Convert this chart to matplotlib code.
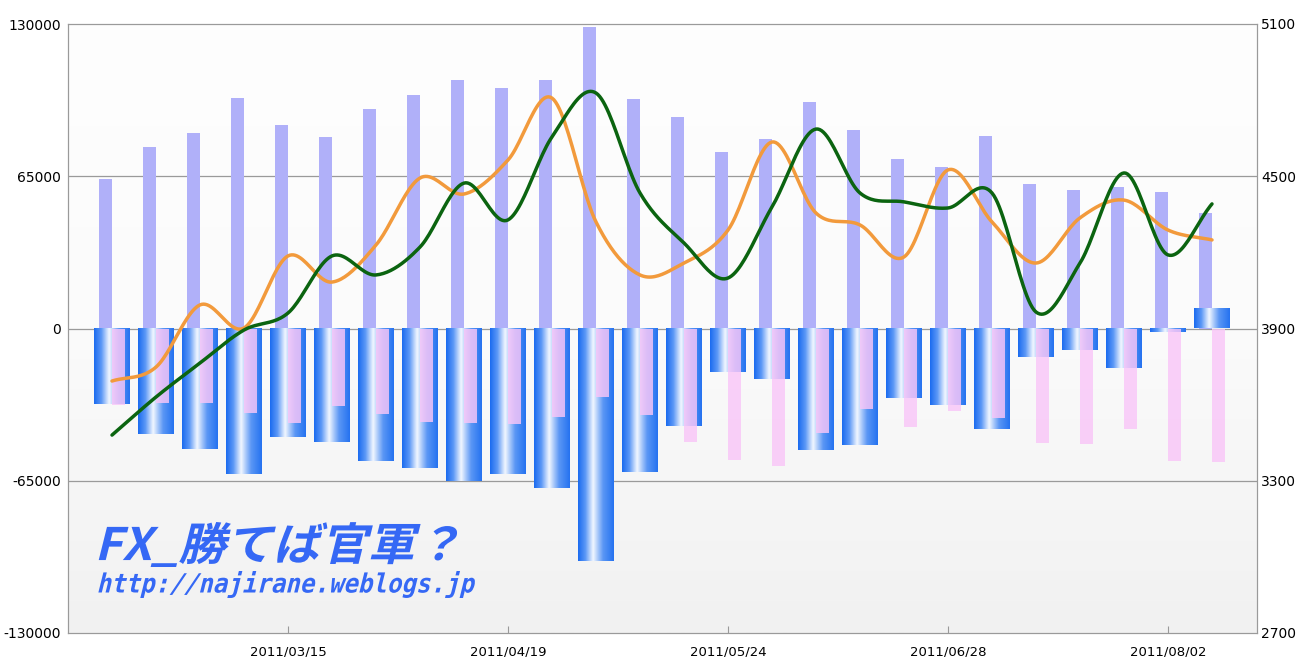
import numpy as np
import pandas as pd
import matplotlib
matplotlib.use("Agg")
import matplotlib.pyplot as plt
import matplotlib.dates as mdates
from matplotlib.colors import LinearSegmentedColormap
from matplotlib.textpath import TextPath
from matplotlib.font_manager import FontProperties
from matplotlib.patches import PathPatch
from matplotlib.transforms import Affine2D, IdentityTransform


# weekly data, 2011/02/15 .. 2011/08/09
weeks = pd.date_range("2011-02-15", periods=26, freq="7D")

buy_vol = [63800, 77500, 83500, 98400, 86900, 81800, 93700, 99700, 106100, 102700,
           106100, 128700, 98000, 90300, 75400, 80900, 96700, 84700, 72400, 68900,
           82200, 61700, 59100, 60400, 58300, 49300]

pnl_blue = [-32200, -45000, -51400, -62100, -46300, -48500, -56600, -59600, -65100, -62100,
            -68100, -99300, -61300, -41600, -18600, -21600, -51900, -49700, -29700, -32700,
            -42900, -12200, -9200, -16900, -1500, 8300]

pnl_pink = [-32500, -31800, -31800, -36100, -40300, -33100, -36500, -39900, -40300, -40800,
            -37800, -29200, -36900, -48500, -56100, -58700, -44600, -34400, -42100, -35200,
            -38200, -48900, -49300, -42900, -56600, -57000]

orange = [3693, 3748, 3993, 3902, 4186, 4083, 4229, 4493, 4430, 4564,
          4808, 4320, 4111, 4158, 4288, 4635, 4355, 4308, 4182, 4525,
          4320, 4158, 4336, 4406, 4288, 4249]

green = [3480, 3630, 3764, 3894, 3961, 4186, 4111, 4221, 4473, 4328,
         4655, 4828, 4434, 4237, 4099, 4379, 4686, 4434, 4399, 4375,
         4434, 3965, 4158, 4513, 4190, 4391]

left_ticks = [-130000, -65000, 0, 65000, 130000]
right_ticks = [2700, 3300, 3900, 4500, 5100]
x_tick_dates = pd.date_range("2011-03-15", periods=5, freq="35D")


def catmull_rom(xs, ys, n=24):
    # smooth curve through the weekly points (drawing only)
    xs = np.asarray(xs, float)
    ys = np.asarray(ys, float)
    px = np.concatenate([[2 * xs[0] - xs[1]], xs, [2 * xs[-1] - xs[-2]]])
    py = np.concatenate([[2 * ys[0] - ys[1]], ys, [2 * ys[-1] - ys[-2]]])
    ox, oy = [], []
    t = np.linspace(0, 1, n, endpoint=False)
    for i in range(1, len(px) - 2):
        for p, out in ((px, ox), (py, oy)):
            p0, p1, p2, p3 = p[i - 1], p[i], p[i + 1], p[i + 2]
            out.extend(0.5 * (2 * p1 + (-p0 + p2) * t + (2 * p0 - 5 * p1 + 4 * p2 - p3) * t ** 2
                              + (-p0 + 3 * p1 - 3 * p2 + p3) * t ** 3))
    ox.append(xs[-1])
    oy.append(ys[-1])
    return np.array(ox), np.array(oy)


fig = plt.figure(figsize=(13.04, 6.57), dpi=100)
ax = fig.add_axes([68 / 1304, 24 / 657, (1257 - 68) / 1304, 609 / 657])

x = mdates.date2num(weeks)
x_left = mdates.date2num(pd.Timestamp("2011-02-08"))
x_right = x_left + (1257 - 68) / 44 * 7

# background gradient
bg = np.linspace(0, 1, 256).reshape(-1, 1)
bg_cmap = LinearSegmentedColormap.from_list("bg", ["#fefefe", "#fbfbfb", "#f1f1f1"])
ax.imshow(bg, cmap=bg_cmap, extent=[0, 1, 0, 1], transform=ax.transAxes,
          aspect="auto", zorder=0, interpolation="bilinear")

px_day = 44 / 7
half_blue = 18 / px_day
narrow = 13 / px_day

# lavender bars (left half)
ax.bar(x - narrow, buy_vol, width=narrow, align="edge", color="#b0b0f9", zorder=2)

# blue gradient bars
blue_cmap = LinearSegmentedColormap.from_list(
    "blue", [(0, "#1c6cf0"), (0.2, "#5c98f6"), (0.42, "#f2f7ff"), (0.7, "#5b97f5"), (1, "#2673f0")])
grad = np.linspace(0, 1, 64).reshape(1, -1)
for xi, v in zip(x, pnl_blue):
    ax.imshow(grad, cmap=blue_cmap, extent=[xi - half_blue, xi + half_blue, min(0, v), max(0, v)],
              aspect="auto", zorder=3, interpolation="bilinear")

# pink bars (right half)
ax.bar(x, pnl_pink, width=narrow, align="edge", color="#f9c6f8", alpha=0.82, zorder=4)

for yv in (-65000, 0, 65000):
    ax.axhline(yv, color="#9a9a9a", lw=0.9, zorder=1)

ax.set_xlim(x_left, x_right)
ax.set_ylim(-130000, 130000)
ax.set_yticks(left_ticks)
ax.set_yticklabels([str(v) for v in left_ticks])
ax.set_xticks(mdates.date2num(x_tick_dates))
ax.set_xticklabels([d.strftime("%Y/%m/%d") for d in x_tick_dates])
ax.tick_params(axis="y", length=0, labelsize=10, pad=5)
ax.tick_params(axis="x", direction="in", length=5, color="#999999", labelsize=9.5, pad=9)
for s in ax.spines.values():
    s.set_color("#9a9a9a")

ax2 = ax.twinx()
ax2.set_ylim(2700, 5100)
ax2.set_yticks(right_ticks)
ax2.set_yticklabels([str(v) for v in right_ticks])
ax2.tick_params(axis="y", length=0, labelsize=10, pad=3)
for s in ax2.spines.values():
    s.set_color("#9a9a9a")

ox, oy = catmull_rom(x, orange)
gx, gy = catmull_rom(x, green)
ax2.plot(ox, oy, color="#f29a3c", lw=2.5, solid_capstyle="round", zorder=4)
ax2.plot(gx, gy, color="#0b6410", lw=2.5, solid_capstyle="round", zorder=6)


def slanted(text, x0, y_top, y_bot, width, family, angle=14):
    # text drawn as a path so CJK glyphs can be slanted too
    path = TextPath((0, 0), text, size=50, prop=FontProperties(family=family, weight="bold"))
    bb = path.get_extents()
    slant = np.tan(np.radians(angle))
    sy = (y_bot - y_top) / bb.height
    sx = (width - (y_bot - y_top) * slant) / bb.width
    tr = (Affine2D().translate(-bb.x0, -bb.y0).scale(sx, sy)
          + Affine2D([[1, slant, 0], [0, 1, 0], [0, 0, 1]])
          + Affine2D().translate(x0, 657 - y_bot))
    fig.add_artist(PathPatch(path, transform=tr + IdentityTransform(), facecolor="#3568f5",
                             edgecolor="none", zorder=10))


slanted("FX_勝てば官軍？", 97, 522, 567, 363, "Noto Sans CJK JP")
slanted("http://najirane.weblogs.jp", 97, 571, 598, 381, "DejaVu Sans Mono")

fig.savefig("out.png", dpi=100)
